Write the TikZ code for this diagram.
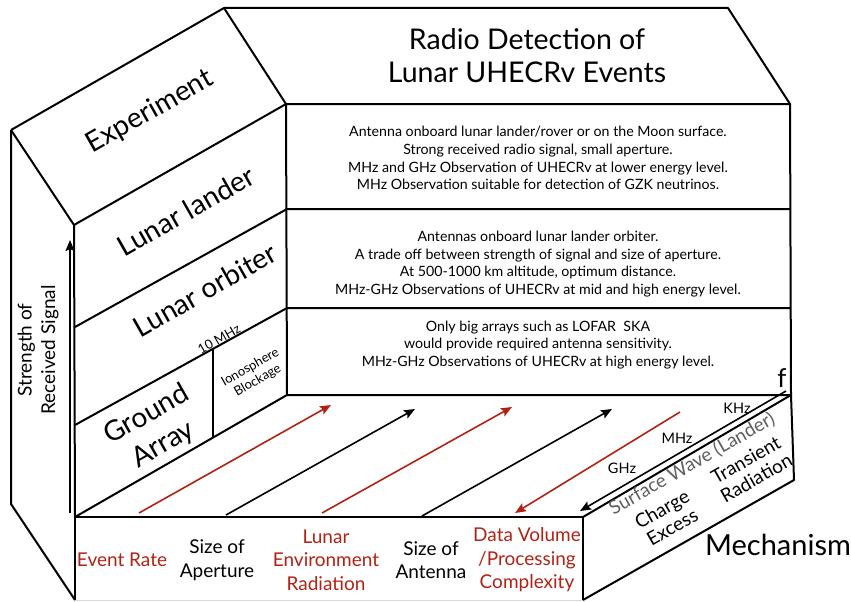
\documentclass[tikz,border=0pt]{standalone}
\usepackage{fontspec}
\setmainfont{Lato}
\usetikzlibrary{arrows.meta}
\definecolor{rust}{RGB}{178,34,20}
\definecolor{wavegray}{RGB}{95,95,95}
\tikzset{%
  rim/.style={line width=2pt, line join=round},
  trend/.style={line width=1.6pt, -{Stealth[length=11pt,width=9pt,inset=2pt]}},
  slab/.style={font=\fontsize{28}{34}\selectfont, rotate=29.6, align=center, inner sep=1pt},
  tiny/.style={font=\fontsize{13}{15}\selectfont, rotate=29.6, align=center, inner sep=1pt},
  cell/.style={font=\fontsize{14.2}{17.8}\selectfont, align=center},
  factor/.style={font=\fontsize{19}{23.5}\selectfont, align=center, inner sep=1pt},
  face/.style={font=\fontsize{19}{21}\selectfont, rotate=29.6, align=center, inner sep=0pt},
  band/.style={font=\fontsize{14.5}{16}\selectfont, inner sep=1pt}
}

\begin{document}
\begin{tikzpicture}[x=1pt, y=-1pt]
  \useasboundingbox (0,0) rectangle (851,602);
  % corners of the block
  \coordinate (back) at (11,130);
  \coordinate (ridge) at (224,8);
  \coordinate (ridgeR) at (728,8);
  \coordinate (topR) at (790,104);
  \coordinate (topL) at (286,104);
  \coordinate (front) at (74,225);
  \coordinate (backB) at (11,504);
  \coordinate (baseL) at (75,600);
  \coordinate (floorL) at (75,517);
  \coordinate (floorB) at (287,395);
  \coordinate (floorR) at (791,395);
  \coordinate (floorF) at (583,517);
  \coordinate (baseR) at (583,600);
  \coordinate (mechB) at (794,480);
  % row borders
  \coordinate (row1L) at (75,327);  \coordinate (row1R) at (287,209);
  \coordinate (row2L) at (75,425);  \coordinate (row2R) at (287,308);
  \coordinate (cut1) at (213,349);  \coordinate (cut2) at (213,438);

  \draw [rim] (back) -- (ridge) -- (ridgeR) -- (topR) -- (topL) -- (ridge);
  \draw [rim] (back) -- (front) -- (topL);
  \draw [rim] (back) -- (backB) -- (baseL);
  \draw [rim] (front) -- (floorL) -- (floorB) -- (topL);
  \draw [rim] (row1L) -- (row1R) -- (row1R -| topR);
  \draw [rim] (row2L) -- (row2R) -- (row2R -| topR);
  \draw [rim] (cut1) -- (cut2);
  \draw [rim] (topR) -- (floorR) -- (floorB);
  \draw [rim] (baseL) -- (floorL) -- (floorF) -- (baseR);
  \draw [rim] (floorR) -- (mechB) -- (baseR);
  \draw [rim] (floorR) -- (floorF);
  \draw [line width=0.8pt, black!15] (baseL) -- (baseR);

  % trends on the floor
  \coordinate (r1s) at (139,513); \coordinate (r1e) at (331,405);
  \coordinate (b1s) at (226,515); \coordinate (b1e) at (415,409);
  \coordinate (r2s) at (322,513); \coordinate (r2e) at (512,407);
  \coordinate (b2s) at (422,516); \coordinate (b2e) at (612,409);
  \coordinate (r3s) at (680,412); \coordinate (r3e) at (515,513);
  \coordinate (fs) at (786,391);  \coordinate (fe) at (580,511);
  \coordinate (sigS) at (70,513); \coordinate (sigE) at (70,240);
  \draw [trend, rust] (r1s) -- (r1e);
  \draw [trend] (b1s) -- (b1e);
  \draw [trend, rust] (r2s) -- (r2e);
  \draw [trend] (b2s) -- (b2e);
  \draw [trend, rust] (r3s) -- (r3e);
  \draw [trend] (fs) -- (fe);
  \draw [trend] (sigS) -- (sigE);

  % labels
  \node (title) [font=\fontsize{28.5}{33}\selectfont, align=center] at (527,56)
    {Radio Detection of\\Lunar UHECRv Events};
  \node (exp) [slab] at (150,112) {Experiment};
  \node (lander) [slab] at (186,211) {Lunar lander};
  \node (orbiter) [slab] at (205,290) {Lunar orbiter};
  \node (ground) [slab] at (155,430) {Ground\\Array};
  \node (tenmhz) [tiny] at (219,339) {10 MHz};
  \node (iono) [tiny] at (254,374) {Ionosphere\\Blockage};
  \node (signal) [factor, rotate=90] at (38,350) {Strength of\\Received Signal};

  \node (landerTxt) [cell] at (538,158) {Antenna onboard lunar lander/rover or on the Moon surface.\\
    Strong received radio signal, small aperture.\\
    MHz and GHz Observation of UHECRv at lower energy level.\\
    MHz Observation suitable for detection of GZK neutrinos.};
  \node (orbiterTxt) [cell] at (538,264) {Antennas onboard lunar lander orbiter.\\
    A trade off between strength of signal and size of aperture.\\
    At 500-1000 km altitude, optimum distance.\\
    MHz-GHz Observations of UHECRv at mid and high energy level.};
  \node (groundTxt) [cell] at (538,345) {Only big arrays such as LOFAR\ \ SKA\\
    would provide required antenna sensitivity.\\
    MHz-GHz Observations of UHECRv at high energy level.};
  \node (freq) [font=\fontsize{26}{26}\selectfont, inner sep=1pt] at (782,378) {f};

  \node (khz) [band] at (737,408) {KHz};
  \node (mhz) [band] at (677,438) {MHz};
  \node (ghz) [band] at (622,468) {GHz};

  \node (wave) [face, text=wavegray] at (692,464) {Surface Wave (Lander)};
  \node (transient) [face] at (751,469) {Transient\\Radiation};
  \node (charge) [face] at (667,518) {Charge\\Excess};
  \node (mech) [font=\fontsize{29}{30}\selectfont, inner sep=1pt] at (778,545) {Mechanism};

  \node (rate) [factor, text=rust] at (122,560) {Event Rate};
  \node (aperture) [factor] at (217,560) {Size of\\Aperture};
  \node (radiation) [factor, text=rust] at (326,560) {Lunar\\Environment\\Radiation};
  \node (antenna) [factor] at (431,560) {Size of\\Antenna};
  \node (volume) [factor, text=rust] at (527,560) {Data Volume\\/Processing\\Complexity};
\end{tikzpicture}
\end{document}
